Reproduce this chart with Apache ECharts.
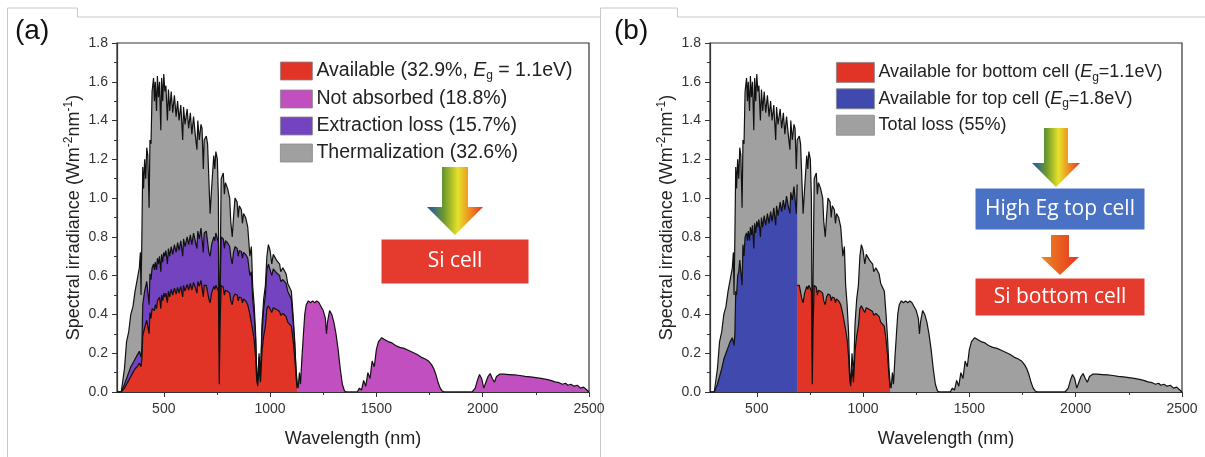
<!DOCTYPE html>
<html>
<head>
<meta charset="utf-8">
<script src="https://cdn.jsdelivr.net/npm/echarts@6/dist/echarts.min.js"></script>
<style>
  html, body { margin: 0; padding: 0; background: #fff; }
  #chart { width: 1205px; height: 457px; }
</style>
</head>
<body>
<div id="chart"></div>
<script>
// wavelength grid for the absorbed part of the spectrum (nm)
var wlShort = [280,300,305,315,325,335,345,355,365,375,
  385,390,393,397,401,405,410,415,420,425,
  431,435,440,445,452,456,460,466,470,475,
  480,486,490,495,500,505,510,517,522,528,
  535,542,550,558,565,572,580,589,593,600,
  610,617,625,632,640,648,656,660,667,675,
  680,686,690,700,706,712,718,725,735,740,
  745,752,757,761,765,770,780,785,790,800,
  810,815,822,828,835,845,850,855,865,870,
  875,885,895,905,912,918,925,932,937,942,
  948,955,962,970,978,985,992,1000,1008,1015,
  1030,1045,1050,1060,1075,1083,1090,1100,1108,1115,
  1122,1127];
// AM1.5 spectral irradiance (W m-2 nm-1)
var totalShort = [0,0,0.01,0.12,0.26,0.31,0.40,0.44,0.52,0.58,
  0.64,0.72,0.50,0.80,1.16,1.05,1.20,1.10,1.26,1.22,
  0.95,1.30,1.28,1.55,1.62,1.50,1.60,1.45,1.63,1.52,
  1.60,1.35,1.62,1.50,1.64,1.55,1.58,1.40,1.56,1.45,
  1.55,1.44,1.53,1.42,1.50,1.40,1.48,1.30,1.47,1.38,
  1.46,1.36,1.44,1.33,1.42,1.33,1.25,1.40,1.30,1.38,
  1.36,1.15,1.30,1.32,1.28,1.10,0.92,1.05,1.22,1.15,
  1.24,1.20,1.00,0.08,0.60,1.10,1.13,1.02,1.08,1.05,
  1.00,0.88,0.80,0.90,1.00,0.98,0.90,0.96,0.94,0.87,
  0.92,0.90,0.85,0.70,0.75,0.55,0.45,0.30,0.10,0.05,
  0.20,0.08,0.35,0.48,0.55,0.70,0.76,0.73,0.66,0.71,
  0.68,0.66,0.62,0.64,0.61,0.56,0.57,0.52,0.40,0.28,
  0.12,0.05];
// top of "extraction loss" band (available + extraction loss)
var extractTop = [0,0,0.005,0.04,0.07,0.10,0.13,0.15,0.17,0.19,
  0.21,0.22,0.18,0.23,0.45,0.44,0.52,0.52,0.57,0.57,
  0.45,0.61,0.58,0.64,0.66,0.63,0.67,0.63,0.69,0.66,
  0.70,0.62,0.71,0.67,0.72,0.70,0.73,0.66,0.74,0.70,
  0.75,0.71,0.76,0.72,0.77,0.73,0.78,0.70,0.79,0.75,
  0.80,0.76,0.81,0.76,0.82,0.78,0.74,0.83,0.79,0.845,
  0.84,0.72,0.82,0.83,0.82,0.72,0.70,0.76,0.80,0.78,
  0.82,0.81,0.77,0.06,0.50,0.80,0.79,0.74,0.78,0.77,
  0.75,0.70,0.66,0.72,0.75,0.74,0.70,0.73,0.725,0.69,
  0.72,0.71,0.69,0.60,0.62,0.48,0.40,0.27,0.09,0.045,
  0.18,0.07,0.31,0.43,0.50,0.63,0.66,0.65,0.60,0.635,
  0.615,0.60,0.57,0.58,0.56,0.52,0.52,0.48,0.37,0.26,
  0.11,0.03];
// available for Si (Eg = 1.1 eV)
var availTop = [0,0,0.003,0.02,0.04,0.06,0.08,0.10,0.12,0.13,
  0.15,0.15,0.13,0.17,0.29,0.28,0.33,0.34,0.37,0.37,
  0.30,0.41,0.38,0.43,0.44,0.42,0.45,0.43,0.47,0.46,
  0.49,0.43,0.50,0.47,0.51,0.49,0.51,0.46,0.52,0.49,
  0.53,0.50,0.535,0.505,0.54,0.51,0.545,0.49,0.55,0.52,
  0.555,0.525,0.56,0.525,0.565,0.54,0.51,0.57,0.545,0.575,
  0.57,0.49,0.55,0.55,0.545,0.48,0.46,0.51,0.545,0.53,
  0.55,0.55,0.52,0.04,0.35,0.55,0.54,0.50,0.525,0.52,
  0.51,0.47,0.45,0.49,0.505,0.50,0.47,0.49,0.485,0.46,
  0.48,0.47,0.45,0.40,0.41,0.32,0.27,0.18,0.06,0.03,
  0.12,0.05,0.21,0.29,0.34,0.43,0.445,0.44,0.41,0.435,
  0.425,0.415,0.395,0.405,0.39,0.36,0.37,0.34,0.27,0.19,
  0.08,0.02];
// available for top cell (Eg = 1.8 eV), 280..690 nm
var topCell = [0,0,0.005,0.04,0.08,0.12,0.17,0.20,0.23,0.26,
  0.28,0.29,0.24,0.30,0.52,0.50,0.60,0.62,0.68,0.69,
  0.55,0.76,0.70,0.80,0.82,0.78,0.83,0.78,0.85,0.81,
  0.86,0.74,0.87,0.82,0.88,0.85,0.89,0.80,0.90,0.85,
  0.91,0.86,0.92,0.87,0.93,0.88,0.95,0.86,0.96,0.91,
  0.98,0.93,0.99,0.94,1.01,0.96,0.92,1.03,0.99,1.06,
  1.06,0.92,1.07];

// below the Si band gap
var wlLong = [1127,1132,1138,1143,1150,1157,1163,1170,1180,1190,1200,1210,1220,1230,1240,1250,1260,1265,1270,1280,1290,1300,1310,1320,1330,1340,1350,1360,1410,1420,1430,1440,1450,1460,1470,1480,1490,1500,1510,1525,1540,1555,1570,1590,1610,1630,1650,1670,1690,1710,1730,1745,1760,1770,1780,1790,1800,1810,1820,
  1950,1965,1975,1985,1995,2005,2015,2025,2035,2045,2055,2065,2080,2100,2125,2150,2175,2200,2225,2250,2275,2300,2320,2340,2360,2375,2390,2400,2415,2430,2445,2460,2475,2490,2500];
var totalLong = [0.05,0.02,0.10,0.04,0.18,0.30,0.40,0.45,0.47,0.46,0.47,0.46,0.47,0.46,0.44,0.42,0.38,0.30,0.36,0.42,0.40,0.36,0.30,0.22,0.12,0.04,0.005,0,0,0.02,0.01,0.06,0.03,0.10,0.07,0.16,0.13,0.22,0.26,0.28,0.27,0.26,0.255,0.24,0.23,0.225,0.215,0.205,0.195,0.18,0.17,0.16,0.14,0.12,0.09,0.05,0.02,0.005,0,
  0,0.02,0.06,0.09,0.07,0.02,0.05,0.08,0.095,0.07,0.05,0.08,0.092,0.092,0.09,0.088,0.085,0.081,0.078,0.074,0.07,0.065,0.06,0.052,0.048,0.04,0.045,0.035,0.04,0.03,0.035,0.02,0.025,0.01,0];

var xMajor = [500,1000,1500,2000,2500];
var xMinor = [500,750,1000,1250,1500,1750,2000,2250,2500];
var topCellEdge = 690;

var FONT = '"Liberation Sans", Arial, sans-serif';
var RED = '#e23426', MAGENTA = '#c24fc0', PURPLE = '#7444c0', GRAY = '#a0a0a0', BLUE = '#4049ad';

function pairs(xs, ys) {
  var out = [];
  for (var i = 0; i < ys.length; i++) out.push([xs[i], ys[i]]);
  return out;
}
function fromEdge(xs, ys, edge) {
  var out = [];
  for (var i = 0; i < xs.length; i++) if (xs[i] >= edge) out.push([xs[i], ys[i]]);
  return out;
}

var chart = echarts.init(document.getElementById('chart'), null, {renderer: 'canvas'});

function gridOf(left) {
  return {left: left, top: 43, width: 472, height: 349, show: true, borderColor: '#333', borderWidth: 1.2, backgroundColor: 'transparent'};
}
function xMain(gi) {
  return {
    type: 'value', gridIndex: gi, min: 280, max: 2500,
    name: 'Wavelength (nm)', nameLocation: 'middle', nameGap: 38,
    nameTextStyle: {fontSize: 18, color: '#222', fontFamily: FONT},
    axisLine: {lineStyle: {color: '#333', width: 1.2}},
    axisTick: {length: 5, lineStyle: {color: '#333'}, customValues: xMajor},
    axisLabel: {fontSize: 14, color: '#333', margin: 10, fontFamily: FONT, customValues: xMajor,
      formatter: function (v) { return String(v); }},
    splitLine: {show: false}
  };
}
function xMinorAxis(gi) {
  return {
    type: 'value', gridIndex: gi, min: 280, max: 2500, position: 'bottom',
    axisLine: {show: false},
    axisTick: {length: 3, lineStyle: {color: '#333'}, customValues: xMinor},
    axisLabel: {show: false},
    splitLine: {show: false}
  };
}
function yAxisOf(gi) {
  return {
    type: 'value', gridIndex: gi, min: 0, max: 1.8, interval: 0.2,
    name: '{n|Spectral irradiance (Wm}{p|-2}{n|nm}{p|-1}{n|)}',
    nameLocation: 'middle', nameRotate: 90, nameGap: 32,
    nameTextStyle: {
      fontSize: 18, color: '#222', fontFamily: FONT,
      rich: {
        n: {fontSize: 18, color: '#222', fontFamily: FONT, lineHeight: 22},
        p: {fontSize: 12, color: '#222', fontFamily: FONT, lineHeight: 12, verticalAlign: 'top'}
      }
    },
    axisLine: {show: true, lineStyle: {color: '#333', width: 1.2}},
    axisTick: {show: true, length: 5, lineStyle: {color: '#333'}},
    minorTick: {show: true, splitNumber: 2, length: 3, lineStyle: {color: '#333'}},
    axisLabel: {fontSize: 14, color: '#333', margin: 9, fontFamily: FONT, formatter: function (v) { return v.toFixed(1); }},
    splitLine: {show: false}
  };
}
function area(name, xi, yi, data, color, z) {
  return {
    name: name, type: 'line', xAxisIndex: xi, yAxisIndex: yi, data: data,
    showSymbol: false, symbol: 'none', z: z,
    itemStyle: {color: color},
    lineStyle: {color: '#111', width: 1.2},
    areaStyle: {color: color, opacity: 1}
  };
}

function richLegend(fs) {
  return {
    t: {fontSize: fs, color: '#222', fontFamily: FONT, lineHeight: 22},
    i: {fontSize: fs, color: '#222', fontFamily: FONT, fontStyle: 'italic', lineHeight: 22},
    s: {fontSize: 12, color: '#222', fontFamily: FONT, lineHeight: 12, verticalAlign: 'bottom'}
  };
}
var legendText = {
  'Available (32.9%, Eg = 1.1eV)': '{t|Available (32.9%, }{i|E}{s|g}{t| = 1.1eV)}',
  'Not absorbed (18.8%)': '{t|Not absorbed (18.8%)}',
  'Extraction loss (15.7%)': '{t|Extraction loss (15.7%)}',
  'Thermalization (32.6%)': '{t|Thermalization (32.6%)}',
  'Available for bottom cell (Eg=1.1eV)': '{t|Available for bottom cell (}{i|E}{s|g}{t|=1.1eV)}',
  'Available for top cell (Eg=1.8eV)': '{t|Available for top cell (}{i|E}{s|g}{t|=1.8eV)}',
  'Total loss (55%)': '{t|Total loss (55%)}'
};
function legendOf(left, top, names, w, h, gap, fs) {
  return {
    orient: 'vertical', left: left, top: top, icon: 'rect',
    itemWidth: w, itemHeight: h, itemGap: gap, padding: 0,
    itemStyle: {borderColor: '#888', borderWidth: 0.8},
    lineStyle: {width: 0},
    selectedMode: false,
    data: names,
    textStyle: {fontSize: fs, color: '#222', fontFamily: FONT, padding: [0, 0, 0, -1], rich: richLegend(fs)},
    formatter: function (n) { return legendText[n]; }
  };
}

function arrowShapes(cx, top, shaftW, headW, headY, tipY, colors) {
  var grad = new echarts.graphic.LinearGradient(cx - headW / 2, 0, cx + headW / 2, 0, colors, true);
  return [
    {type: 'rect', shape: {x: cx - shaftW / 2, y: top, width: shaftW, height: headY - top + 1}, style: {fill: grad}},
    {type: 'polygon', shape: {points: [[cx - headW / 2, headY], [cx + headW / 2, headY], [cx, tipY]]}, style: {fill: grad}}
  ];
}
var spectrumStops = [
  {offset: 0, color: '#1d4fb0'}, {offset: 0.3, color: '#6d9a2c'}, {offset: 0.55, color: '#e6e12a'},
  {offset: 0.78, color: '#ee8a22'}, {offset: 1, color: '#e8301f'}
];
var orangeStops = [{offset: 0, color: '#ee8a22'}, {offset: 1, color: '#e5321f'}];

function box(x, y, w, h, fill, text) {
  return {
    type: 'rect', shape: {x: x, y: y, width: w, height: h},
    style: {fill: fill, stroke: '#ffffff', lineWidth: 1},
    textContent: {style: {text: text, fill: '#fff', fontSize: 21, fontFamily: '"Open Sans", "Noto Sans", sans-serif'}},
    textConfig: {position: 'inside'}
  };
}
function frameLines(x0, x1, tabEnd) {
  var st = {stroke: '#c8c8c8', lineWidth: 1};
  return [
    {type: 'polyline', shape: {points: [[x0, 457], [x0, 8], [tabEnd, 8], [tabEnd, 17], [x1, 17]]}, style: st, silent: true}
  ];
}

var graphics = []
  .concat(frameLines(7.5, 600, 77.5))
  .concat(frameLines(600.5, 1205, 677.5))
  .concat(arrowShapes(455, 167, 26, 56, 207, 235, spectrumStops))
  .concat([box(381, 239, 148, 45, '#e53b2e', 'Si cell')])
  .concat(arrowShapes(1056, 128, 24, 48, 163, 187, spectrumStops))
  .concat([box(975, 188, 170, 42, '#4a72c4', 'High Eg top cell')])
  .concat(arrowShapes(1060, 235, 18, 38, 257, 275, orangeStops))
  .concat([box(975, 278, 170, 38, '#e53b2e', 'Si bottom cell')])
  .concat([
    {type: 'text', left: 15, top: 17, style: {text: '(a)', fontSize: 28, fill: '#111', fontFamily: FONT}},
    {type: 'text', left: 614, top: 17, style: {text: '(b)', fontSize: 28, fill: '#111', fontFamily: FONT}}
  ]);

var option = {
  animation: false,
  backgroundColor: '#fff',
  grid: [gridOf(117), gridOf(710)],
  xAxis: [xMain(0), xMinorAxis(0), xMain(1), xMinorAxis(1)],
  yAxis: [yAxisOf(0), yAxisOf(1)],
  legend: [
    legendOf(280, 61, ['Available (32.9%, Eg = 1.1eV)', 'Not absorbed (18.8%)', 'Extraction loss (15.7%)', 'Thermalization (32.6%)'], 32, 18, 7, 19.5),
    legendOf(836, 62, ['Available for bottom cell (Eg=1.1eV)', 'Available for top cell (Eg=1.8eV)', 'Total loss (55%)'], 38, 20, 5, 18)
  ],
  series: [
    area('Thermalization (32.6%)', 0, 0, pairs(wlShort, totalShort), GRAY, 2),
    area('Not absorbed (18.8%)', 0, 0, pairs(wlLong, totalLong), MAGENTA, 2),
    area('Extraction loss (15.7%)', 0, 0, pairs(wlShort, extractTop), PURPLE, 3),
    area('Available (32.9%, Eg = 1.1eV)', 0, 0, pairs(wlShort, availTop), RED, 4),

    area('Total loss (55%)', 2, 1, pairs(wlShort, totalShort), GRAY, 2),
    area('Total loss (55%)', 2, 1, pairs(wlLong, totalLong), GRAY, 2),
    area('Available for top cell (Eg=1.8eV)', 2, 1, pairs(wlShort, topCell), BLUE, 3),
    area('Available for bottom cell (Eg=1.1eV)', 2, 1, fromEdge(wlShort, availTop, topCellEdge), RED, 3)
  ],
  graphic: graphics
};
chart.setOption(option);
</script>
</body>
</html>
